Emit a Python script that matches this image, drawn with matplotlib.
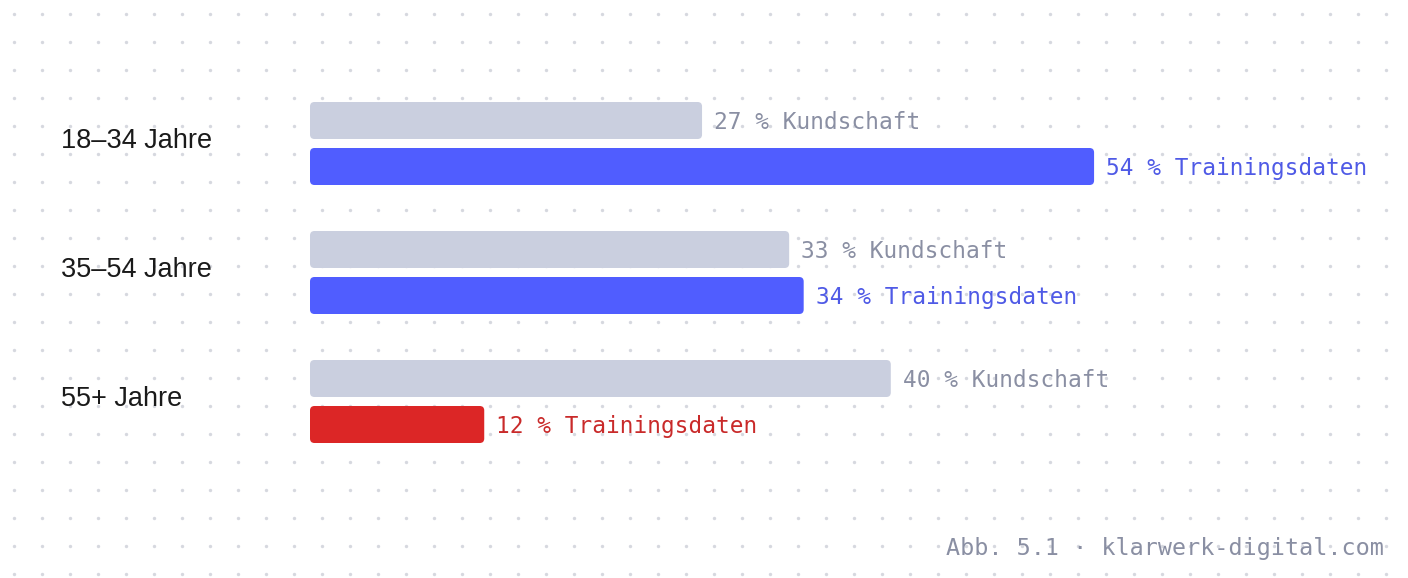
import matplotlib
matplotlib.use("Agg")
import matplotlib.pyplot as plt
from matplotlib.patches import FancyBboxPatch
import numpy as np

categories = ["18–34 Jahre", "35–54 Jahre", "55+ Jahre"]
kundschaft = [27, 33, 40]
training = [54, 34, 12]
training_flag = [False, False, True]  # underrepresented group highlighted
footer = "Abb. 5.1 · klarwerk-digital.com"

W, H = 1408, 578
fig = plt.figure(figsize=(W / 100, H / 100), dpi=100)
ax = fig.add_axes([0, 0, 1, 1])
x0_px, px_per_pct = 310, 14.52
ax.set_xlim(-x0_px / px_per_pct, (W - x0_px) / px_per_pct)
ax.set_ylim(H, 0)
ax.axis("off")

# dotted background
gx = np.arange(14, W, 28)
gy = np.arange(14, H, 28)
XX, YY = np.meshgrid((gx - x0_px) / px_per_pct, gy)
ax.scatter(XX.ravel(), YY.ravel(), s=6, color="#D6D8DF", linewidths=0, zorder=0)

grey_bar = "#CACFDF"
blue_bar = "#505DFF"
red_bar = "#DC2626"
grey_txt = "#8A8FA3"
blue_txt = "#4F5AE6"
red_txt = "#C92A2A"

bar_h = 37
group0, group_step = 143.5, 129
off = 23
mono = "DejaVu Sans Mono"
rad = 4.5

def rbar(v, yc, color):
    p = FancyBboxPatch((0, yc - bar_h / 2), v, bar_h,
                       boxstyle=f"round,pad=0,rounding_size={rad / px_per_pct}",
                       mutation_aspect=px_per_pct,
                       facecolor=color, edgecolor="none", zorder=2)
    ax.add_patch(p)

gap = 12 / px_per_pct
for i, cat in enumerate(categories):
    yc = group0 + group_step * i
    ax.text(61 / px_per_pct - x0_px / px_per_pct, yc - 2.5, cat, ha="left", va="center",
            fontsize=19.5, color="#1A1A1A", family=["Liberation Sans", "DejaVu Sans"], zorder=3)
    y1 = yc - off
    rbar(kundschaft[i], y1, grey_bar)
    ax.text(kundschaft[i] + gap, y1 + 2, f"{kundschaft[i]} % Kundschaft", ha="left", va="center",
            fontsize=16.4, color=grey_txt, family=mono, zorder=3)
    y2 = yc + off
    c_bar = red_bar if training_flag[i] else blue_bar
    c_txt = red_txt if training_flag[i] else blue_txt
    rbar(training[i], y2, c_bar)
    ax.text(training[i] + gap, y2 + 2, f"{training[i]} % Trainingsdaten", ha="left", va="center",
            fontsize=16.4, color=c_txt, family=mono, zorder=3)

ax.text((1384 - x0_px) / px_per_pct, 549, footer, ha="right", va="center",
        fontsize=16.8, color=grey_txt, family=mono, zorder=3)

fig.savefig("out.png", dpi=100, facecolor="white")
